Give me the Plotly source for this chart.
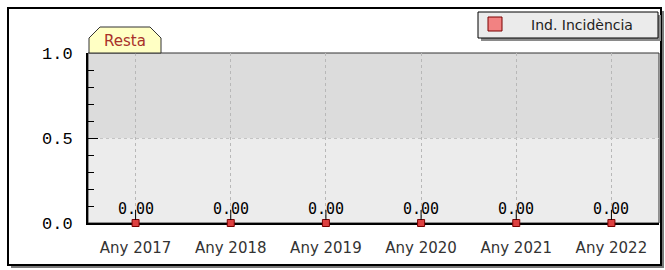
import plotly.graph_objects as go

categories = ["Any 2017", "Any 2018", "Any 2019", "Any 2020", "Any 2021", "Any 2022"]
values = [0.0, 0.0, 0.0, 0.0, 0.0, 0.0]
value_labels = ["0.00", "0.00", "0.00", "0.00", "0.00", "0.00"]
y_tickvals = [0.0, 0.5, 1.0]
y_ticktext = ["0.0", "0.5", "1.0"]
series_name = "Ind. Incidència"
tab_label = "Resta"

W, H = 665, 270
L, R, T, B = 88, 6, 53, 47
PW, PH = W - L - R, H - T - B


def px(x):
    return (x - L) / PW


def py(y):
    return (H - B - y) / PH


fig = go.Figure()
fig.add_trace(go.Scatter(
    x=categories, y=values, mode="markers", name=series_name,
    marker=dict(symbol="square", size=7, color="#dd4040",
                line=dict(color="#7a0000", width=1)),
    cliponaxis=False, showlegend=False,
))

shapes = []
# outer frame with shadow
shapes.append(dict(type="rect", xref="paper", yref="paper", layer="below",
                   x0=px(11), x1=px(664), y0=py(11), y1=py(268),
                   fillcolor="#7a7a7a", line=dict(width=0)))
shapes.append(dict(type="rect", xref="paper", yref="paper", layer="below",
                   x0=px(8), x1=px(661), y0=py(8), y1=py(265),
                   fillcolor="white", line=dict(color="black", width=2)))
# bands
shapes.append(dict(type="rect", xref="paper", yref="y", layer="below",
                   x0=0, x1=1, y0=0, y1=0.5, fillcolor="#ececec", line=dict(width=0)))
shapes.append(dict(type="rect", xref="paper", yref="y", layer="below",
                   x0=0, x1=1, y0=0.5, y1=1, fillcolor="#dcdcdc", line=dict(width=0)))
# plot border
shapes.append(dict(type="rect", xref="paper", yref="paper", layer="below",
                   x0=0, x1=1, y0=0, y1=1, line=dict(color="#333", width=1)))
# connectors from each marker up to its label
for c, v in zip(categories, values):
    shapes.append(dict(type="line", xref="x", yref="y", ysizemode="pixel",
                       x0=c, x1=c, yanchor=v, y0=3, y1=13,
                       line=dict(color="black", width=1)))
# tab
tab_pts = [(89, 53), (89, 38), (100, 27), (150, 27), (161, 38), (161, 53)]
path = "M " + " L ".join(f"{px(a)},{py(b)}" for a, b in tab_pts) + " Z"
shapes.append(dict(type="path", xref="paper", yref="paper", path=path,
                   fillcolor="#ffffc4", line=dict(color="#333", width=1)))
# legend box
shapes.append(dict(type="rect", xref="paper", yref="paper",
                   x0=px(481), x1=px(661), y0=py(15), y1=py(41),
                   fillcolor="#8a8a8a", line=dict(width=0)))
shapes.append(dict(type="rect", xref="paper", yref="paper",
                   x0=px(478), x1=px(658), y0=py(12), y1=py(38),
                   fillcolor="#ebebeb", line=dict(color="black", width=1)))
shapes.append(dict(type="rect", xref="paper", yref="paper",
                   x0=px(488), x1=px(502), y0=py(17), y1=py(31),
                   fillcolor="#f28282", line=dict(color="#7a0000", width=1)))

annotations = []
for c, v, t in zip(categories, values, value_labels):
    annotations.append(dict(x=c, y=v, text=t, showarrow=False, yshift=14,
                            font=dict(family="DejaVu Sans Mono", size=15, color="black")))
annotations.append(dict(xref="paper", yref="paper", x=px(529), y=py(25), xanchor="left",
                        yanchor="middle", text=series_name, showarrow=False,
                        font=dict(family="DejaVu Sans", size=14, color="#222")))
annotations.append(dict(xref="paper", yref="paper", x=px(125), y=py(41), xanchor="center",
                        yanchor="middle", text=tab_label, showarrow=False,
                        font=dict(family="DejaVu Sans", size=15, color="#a8302a")))

fig.update_layout(
    width=W, height=H, margin=dict(l=L, r=R, t=T, b=B),
    paper_bgcolor="white", plot_bgcolor="rgba(0,0,0,0)",
    shapes=shapes, annotations=annotations, showlegend=False,
    xaxis=dict(type="category", range=[-0.5, len(categories) - 0.5],
               showline=True, linecolor="black", linewidth=2, layer="below traces",
               showgrid=True, gridcolor="#b8b8b8", griddash="dot", gridwidth=1,
               ticks="", ticklabelstandoff=10, zeroline=False,
               tickfont=dict(family="DejaVu Sans", size=15, color="#333")),
    yaxis=dict(range=[0, 1], tickvals=y_tickvals, ticktext=y_ticktext,
               showline=True, linecolor="black", linewidth=2, layer="below traces",
               ticks="inside", ticklen=10, tickwidth=1, tickcolor="black",
               showgrid=True, gridcolor="#c4c4c4", griddash="dot", gridwidth=1,
               zeroline=False, ticklabelstandoff=10,
               minor=dict(dtick=0.1, ticks="inside", ticklen=6, tickcolor="black",
                          tickwidth=1, showgrid=False),
               tickfont=dict(family="Liberation Mono", size=17, color="black")),
)

fig.write_html("out.html", config={"displayModeBar": False},
               post_script="document.body.style.margin='0px';document.body.style.overflow='hidden';")
